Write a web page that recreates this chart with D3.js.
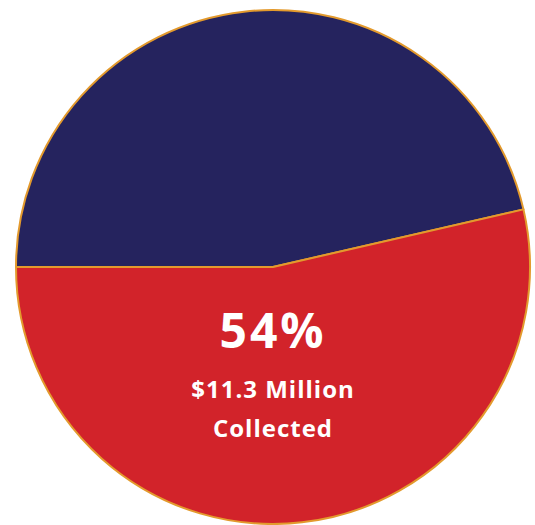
<!DOCTYPE html>
<html lang="en">
<head>
    <meta charset="utf-8">
    <script type="text/javascript" src="https://d3js.org/d3.v7.min.js"></script>
    <title>Funds Collected</title>
    <style>
        html, body {
            margin: 0;
            padding: 0;
            background: white;
        }
        svg text {
            font-family: "Open Sans", Lato, sans-serif;
            font-weight: bold;
            fill: white;
        }
    </style>
</head>
<body>
    <div class="div_d3"></div>

    <script type="text/javascript">

        // Data
        const labels = ["Remaining", "Collected"];
        const values = [46.4, 53.6];
        const colors = ["#25235e", "#d2232a"];
        const centerLines = ["54%", "$11.3 Million", "Collected"];

        const width = 535, height = 525;
        const cx = 273, cy = 267, radius = 257;

        const svg = d3.select(".div_d3")
            .append("svg")
                .attr("width", width)
                .attr("height", height);

        const g = svg.append("g")
            .attr("transform", `translate(${cx},${cy})`);

        // Pie starting at 9 o'clock, going clockwise
        const pie = d3.pie()
            .sort(null)
            .startAngle(-Math.PI / 2)
            .endAngle(Math.PI * 1.5);

        const arc = d3.arc()
            .innerRadius(0)
            .outerRadius(radius);

        g.selectAll("path")
            .data(pie(values))
            .join("path")
                .attr("d", arc)
                .attr("fill", (d, i) => colors[i])
                .attr("stroke", "#e39a2d")
                .attr("stroke-width", 2)
                .attr("stroke-linejoin", "round");

        // Labels inside the red slice
        g.append("text")
            .attr("x", 0)
            .attr("y", 81)
            .attr("text-anchor", "middle")
            .style("font-size", "48px")
            .style("letter-spacing", "3px")
            .text(centerLines[0]);

        g.append("text")
            .attr("x", 0)
            .attr("y", 131)
            .attr("text-anchor", "middle")
            .style("font-size", "24px")
            .style("letter-spacing", "1px")
            .text(centerLines[1]);

        g.append("text")
            .attr("x", 0)
            .attr("y", 170)
            .attr("text-anchor", "middle")
            .style("font-size", "24px")
            .style("letter-spacing", "1px")
            .text(centerLines[2]);

    </script>
</body>
</html>
